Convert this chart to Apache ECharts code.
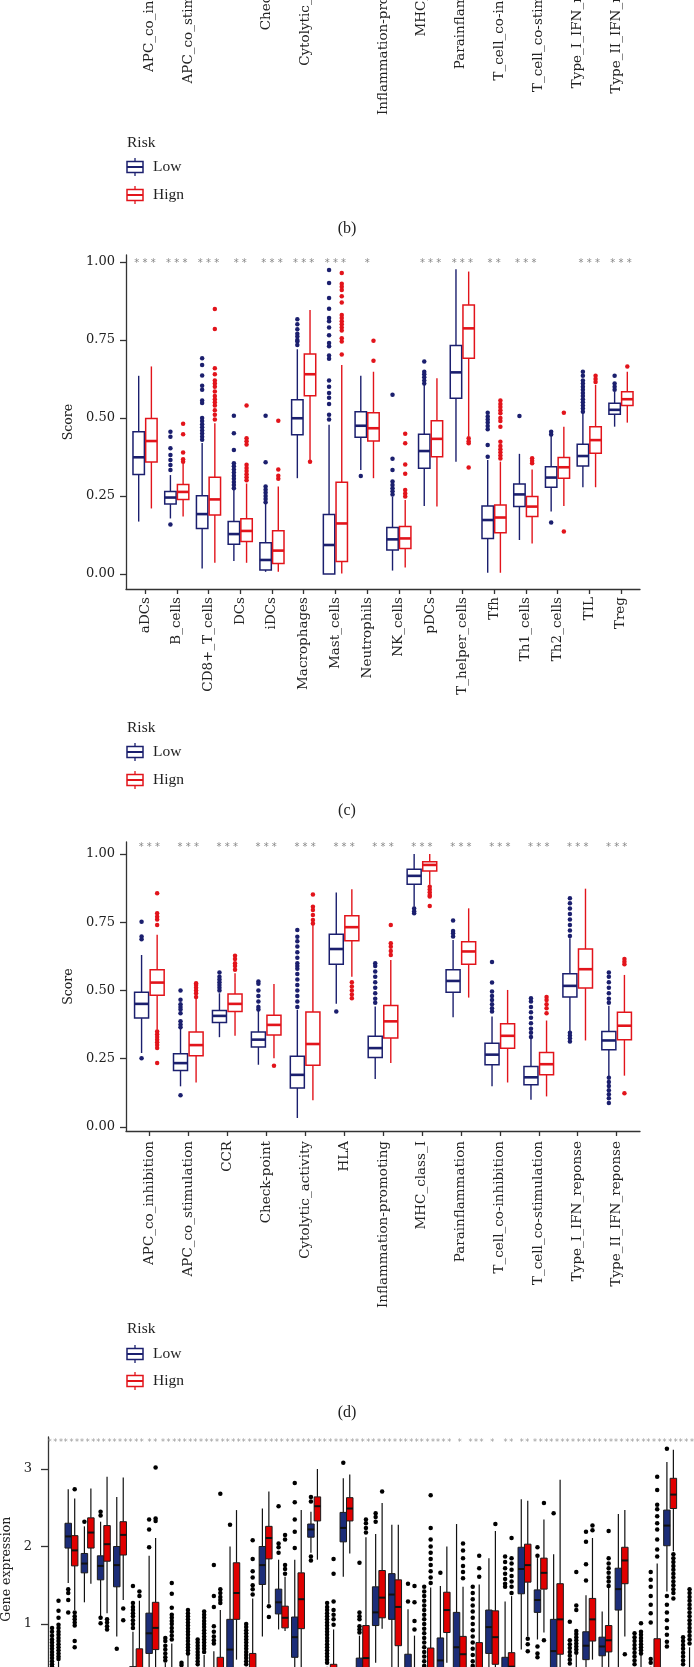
<!DOCTYPE html>
<html><head><meta charset="utf-8">
<script src="https://cdn.jsdelivr.net/npm/echarts@6/dist/echarts.min.js"></script>
<style>html,body{margin:0;padding:0;background:#fff}#chart{width:694px;height:1667px}</style>
</head><body><div id="chart"></div>
<script>
// ---------------- Panel (b)/(d) categories ----------------
const dCats = ['APC_co_inhibition','APC_co_stimulation','CCR','Check-point','Cytolytic_activity','HLA','Inflammation-promoting','MHC_class_I','Parainflammation','T_cell_co-inhibition','T_cell_co-stimulation','Type_I_IFN_reponse','Type_II_IFN_reponse'];
const dStars = ['***','***','***','***','***','***','***','***','***','***','***','***','***'];
// [lowerWhisker, q1, median, q3, upperWhisker]
const dLowStats = [[0.271,0.399,0.451,0.494,0.630],[0.149,0.207,0.234,0.268,0.362],[0.329,0.383,0.407,0.427,0.490],[0.228,0.293,0.320,0.348,0.448],[0.033,0.143,0.191,0.259,0.429],[0.451,0.596,0.652,0.706,0.859],[0.176,0.255,0.289,0.332,0.441],[0.807,0.889,0.920,0.944,1.0],[0.402,0.494,0.535,0.576,0.685],[0.149,0.228,0.265,0.307,0.405],[0.100,0.155,0.182,0.222,0.322],[0.350,0.476,0.517,0.561,0.691],[0.185,0.283,0.317,0.350,0.444]];
const dHighStats = [[0.356,0.483,0.529,0.576,0.704],[0.163,0.261,0.300,0.348,0.478],[0.334,0.423,0.451,0.487,0.563],[0.252,0.337,0.374,0.409,0.524],[0.098,0.226,0.304,0.421,0.740],[0.550,0.682,0.732,0.774,0.871],[0.234,0.326,0.387,0.445,0.612],[0.887,0.938,0.960,0.972,1.0],[0.474,0.596,0.643,0.679,0.801],[0.163,0.288,0.334,0.378,0.502],[0.112,0.191,0.230,0.273,0.390],[0.317,0.509,0.578,0.652,0.873],[0.188,0.320,0.371,0.420,0.557]];
const dLowOut = [[0.752,0.698,0.688,0.252],[0.500,0.466,0.45,0.44,0.43,0.417,0.387,0.375,0.365,0.116],[0.566,0.55,0.54,0.53,0.52,0.51,0.50],[0.533,0.525,0.50,0.48,0.46,0.44,0.43],[0.722,0.697,0.68,0.661,0.64,0.62,0.60,0.59,0.58,0.56,0.54,0.52,0.50,0.48,0.46,0.44],[0.423],[0.60,0.59,0.57,0.55,0.53,0.51,0.49,0.47,0.455],[0.80,0.79,0.783],[0.756,0.718,0.71,0.698],[0.604,0.529,0.496,0.48,0.465,0.45,0.435,0.423],[0.472,0.46,0.44,0.42,0.40,0.38,0.36,0.345,0.33],[0.838,0.82,0.80,0.78,0.76,0.74,0.72,0.70,0.345,0.335,0.325,0.313],[0.566,0.55,0.53,0.51,0.49,0.47,0.455,0.18,0.165,0.15,0.135,0.12,0.105,0.088]];
const dHighOut = [[0.856,0.783,0.77,0.76,0.74,0.35,0.34,0.33,0.32,0.31,0.30,0.289,0.234],[0.527,0.52,0.51,0.50,0.49,0.476],[0.627,0.615,0.60,0.59,0.576],[0.224],[0.852,0.807,0.795,0.777,0.758,0.745],[0.53,0.515,0.50,0.485,0.472],[0.740,0.673,0.66,0.645,0.63],[0.880,0.87,0.86,0.85,0.844,0.810],[],[],[0.476,0.465,0.45,0.435,0.417],[],[0.615,0.605,0.596,0.124]];

// ---------------- Panel (c) ----------------
const cCats = ['aDCs','B_cells','CD8+_T_cells','DCs','iDCs','Macrophages','Mast_cells','Neutrophils','NK_cells','pDCs','T_helper_cells','Tfh','Th1_cells','Th2_cells','TIL','Treg'];
const cStars = ['***','***','***','**','***','***','***','*','','***','***','**','***','','***','***'];
const cLowStats = [[0.168,0.319,0.374,0.456,0.635],[0.178,0.224,0.245,0.264,0.317],[0.018,0.146,0.192,0.251,0.42],[0.042,0.095,0.128,0.168,0.269],[0.007,0.013,0.045,0.100,0.226],[0.307,0.446,0.499,0.558,0.72],[0,0,0.093,0.191,0.478],[0.333,0.438,0.475,0.520,0.635],[0.011,0.077,0.111,0.149,0.248],[0.218,0.339,0.394,0.448,0.606],[0.360,0.563,0.646,0.732,0.976],[0.004,0.114,0.173,0.218,0.365],[0.109,0.216,0.255,0.288,0.385],[0.200,0.278,0.309,0.344,0.442],[0.278,0.346,0.378,0.416,0.517],[0.472,0.512,0.526,0.547,0.584]];
const cHighStats = [[0.210,0.359,0.426,0.498,0.665],[0.184,0.239,0.263,0.287,0.355],[0.036,0.189,0.239,0.310,0.483],[0.036,0.104,0.138,0.177,0.29],[0.007,0.034,0.075,0.139,0.28],[0.365,0.571,0.640,0.705,0.846],[0.002,0.040,0.162,0.294,0.670],[0.307,0.426,0.467,0.517,0.648],[0.021,0.082,0.114,0.152,0.237],[0.216,0.376,0.433,0.491,0.627],[0.442,0.691,0.787,0.862,0.969],[0.004,0.132,0.181,0.221,0.360],[0.098,0.184,0.216,0.248,0.335],[0.218,0.307,0.342,0.373,0.472],[0.278,0.387,0.429,0.472,0.606],[0.485,0.540,0.560,0.584,0.648]];
const cLowOut = [[],[0.456,0.440,0.403,0.381,0.365,0.349,0.333,0.159],[0.691,0.670,0.636,0.603,0.590,0.556,0.548,0.50,0.49,0.48,0.47,0.46,0.45,0.44,0.43],[0.507,0.451,0.397,0.355,0.345,0.335,0.325,0.315,0.305,0.295,0.285,0.275],[0.507,0.358,0.28,0.27,0.26,0.25,0.24,0.23],[0.816,0.80,0.784,0.77,0.761,0.75,0.745,0.734],[0.974,0.932,0.884,0.85,0.82,0.81,0.79,0.765,0.74,0.73,0.70,0.69,0.62,0.60,0.58,0.565,0.545,0.51,0.495],[0.314],[0.574,0.369,0.333,0.296,0.285,0.275,0.265,0.255],[0.681,0.648,0.64,0.63,0.62,0.61],[],[0.517,0.505,0.495,0.485,0.474,0.464,0.413,0.376],[0.506],[0.456,0.447,0.165],[0.648,0.635,0.62,0.61,0.60,0.59,0.58,0.57,0.56,0.55,0.54,0.53,0.52],[0.635,0.61,0.60,0.59]];
const cHighOut = [[],[0.481,0.448,0.389,0.368,0.360],[0.849,0.785,0.659,0.64,0.62,0.61,0.60,0.585,0.57,0.56,0.55,0.54,0.525,0.51,0.495],[0.54,0.435,0.425,0.415,0.35,0.34,0.33,0.32,0.31,0.30],[0.491,0.335,0.315,0.305],[0.36],[0.964,0.93,0.92,0.91,0.89,0.87,0.83,0.82,0.81,0.80,0.79,0.78,0.755,0.745,0.703],[0.747,0.683],[0.449,0.419,0.351,0.321,0.269,0.258,0.248],[],[0.435,0.425,0.419,0.341],[0.556,0.545,0.535,0.525,0.515,0.50,0.49,0.472,0.424,0.41,0.40,0.39,0.38,0.37],[0.371,0.363,0.355],[0.517,0.136],[0.635,0.625,0.615],[0.665]];

// ---------------- Panel (e) gene expression ----------------
const eStars = ['***','***','***','***','***','***','**','***','***','***','***','***','***','***','***','***','***','***','***','***','***','***','***','***','***','*','***','*','**','**','***','***','***','***','***','***','***','***','***','***'];
const eLowStats = [[0,0.05,0.1,0.18,0.4],[1.53,1.98,2.13,2.30,2.74],[1.28,1.66,1.78,1.91,2.26],[1.10,1.57,1.75,1.88,2.32],[0.84,1.48,1.76,2.0,2.64],[0,0.15,0.3,0.45,0.9],[0.3,0.62,0.88,1.14,1.88],[0,0.08,0.15,0.25,0.5],[0,0.05,0.1,0.2,0.42],[0,0.06,0.12,0.22,0.45],[0,0.1,0.18,0.3,0.65],[0,0.35,0.67,1.06,2.0],[0,0.1,0.2,0.3,0.45],[0.84,1.51,1.76,2.0,2.49],[0.93,1.13,1.28,1.45,1.83],[0.3,0.57,0.83,1.09,1.83],[1.92,2.12,2.22,2.29,2.45],[0,0.05,0.1,0.2,0.45],[1.61,2.06,2.24,2.44,2.88],[0,0.15,0.3,0.56,0.85],[0.5,0.98,1.15,1.48,2.16],[0.2,1.06,1.38,1.65,2.28],[0,0.15,0.35,0.61,1.19],[0,0.05,0.1,0.2,0.42],[0.1,0.3,0.53,0.82,1.49],[0.1,0.35,0.70,1.15,2.29],[0,0.05,0.1,0.2,0.42],[0.2,0.62,0.96,1.18,1.85],[0,0.2,0.35,0.57,1.29],[0.67,1.39,1.71,1.99,2.61],[0.8,1.15,1.31,1.44,1.85],[0.1,0.35,0.65,1.06,1.90],[0,0.05,0.1,0.2,0.42],[0.3,0.54,0.72,0.90,1.37],[0.4,0.59,0.71,0.83,1.16],[0.3,1.18,1.45,1.72,2.42],[0,0.05,0.1,0.2,0.42],[0,0.05,0.1,0.2,0.45],[1.42,2.01,2.27,2.47,3.09],[0,0.05,0.1,0.2,0.42]];
const eHighStats = [[0,0.08,0.15,0.25,0.52],[1.18,1.75,1.95,2.14,2.62],[1.52,1.98,2.18,2.37,2.75],[1.14,1.81,2.03,2.27,2.90],[1.31,1.89,2.15,2.32,2.89],[0,0.15,0.35,0.68,1.30],[0.35,0.67,0.95,1.28,2.11],[0,0.1,0.2,0.35,0.75],[0,0.08,0.15,0.28,0.6],[0,0.08,0.15,0.3,0.6],[0,0.15,0.3,0.57,1.18],[0.54,1.06,1.40,1.79,2.47],[0,0.2,0.35,0.62,1.33],[1.26,1.84,2.11,2.26,2.71],[0.91,0.95,1.08,1.23,1.61],[0.25,0.94,1.32,1.66,2.47],[1.83,2.33,2.52,2.64,3.0],[0,0.1,0.2,0.48,0.93],[1.91,2.33,2.49,2.63,2.93],[0,0.3,0.56,0.98,2.12],[0.94,1.08,1.34,1.69,2.56],[0.1,0.72,1.22,1.57,2.28],[0,0.1,0.2,0.35,0.85],[0,0.2,0.35,0.69,1.47],[0.5,0.89,1.18,1.41,2.0],[0,0.35,0.61,0.84,1.48],[0,0.2,0.4,0.76,1.51],[0.1,0.48,0.83,1.17,2.2],[0,0.25,0.45,0.63,1.36],[0.84,1.54,1.76,2.03,2.59],[0.89,1.45,1.66,1.85,2.35],[0.2,0.61,1.06,1.52,2.86],[0,0.08,0.15,0.3,0.6],[0.54,0.78,1.06,1.33,2.11],[0.3,0.64,0.79,0.98,1.48],[0.84,1.52,1.82,1.99,2.47],[0,0.08,0.15,0.3,0.6],[0,0.2,0.4,0.81,1.78],[1.94,2.49,2.67,2.88,3.25],[0,0.1,0.2,0.35,0.7]];
const eLowOut = [[0.95,0.9,0.85,0.8,0.76,0.72,0.68,0.64,0.6,0.56,0.52,0.48,0.45],[1.45,1.40,1.31,1.15],[2.32],[2.45,2.40,1.08,1.01],[0.68],[1.49,1.27,1.22,1.18,1.14,1.10,1.05,1.0,0.95],[2.35,2.22,1.99],[0.82,0.78,0.72,0.67,0.62,0.57,0.53],[0.5,0.47],[0.80,0.76,0.72,0.68,0.64,0.6,0.56,0.52,0.48],[1.76,1.36,1.22,0.97,0.90,0.84,0.79,0.75],[2.28],[1.0,0.96,0.92,0.88,0.84,0.8,0.76,0.72,0.68,0.64,0.6,0.56,0.52,0.48],[],[2.52,2.04,1.99,1.92],[2.82,2.57,2.35,2.19,1.98],[2.64,2.58,1.87,1.82],[1.27,1.22,1.18,1.14,1.1,1.06,1.02,0.98,0.94,0.9,0.86,0.82,0.78,0.74,0.7,0.66,0.62,0.58,0.54,0.5],[3.08],[1.79,1.15,1.10,1.06,0.97,0.93,0.89],[2.43,2.38,2.32],[],[1.52,1.29],[1.48,1.42,1.36,1.3,1.24,1.18,1.12,1.06,1.0,0.94,0.88,0.82,0.76,0.7,0.64,0.58,0.52,0.46],[1.66],[],[1.48,1.4,1.32,1.24,1.16,1.08,1.0,0.92,0.84,0.76,0.68,0.6,0.52,0.46],[],[1.87,1.80,1.72,1.65,1.58,1.52,1.48],[],[1.99,1.88,0.71,0.62,0.57],[2.43],[1.03,0.79,0.74,0.69,0.64,0.59,0.54,0.49],[2.19,2.06,1.77,1.56],[],[],[0.88,0.83,0.78,0.73,0.68,0.63,0.58,0.53,0.48],[1.67,1.57,1.48,1.36,1.25,1.14,1.02,0.55,0.5],[3.26,1.36,1.25,1.15,1.05,0.95,0.86,0.77,0.71],[0.83,0.78,0.73,0.68,0.63,0.58,0.53,0.48]];
const eHighOut = [[1.30,1.17,1.08,0.99,0.95,0.9,0.86,0.82,0.78,0.74,0.7,0.66,0.62,0.58,0.55],[2.74,1.15,1.1,1.06,1.02,0.98,0.78,0.70],[],[1.06,1.02,0.97,0.93],[1.20,1.05],[1.42,1.36],[3.02,2.36,2.33],[1.53,1.39,1.21,1.12,1.08,1.04,1.0,0.95,0.9,0.85,0.8],[1.18,1.14,1.1,1.06,1.02,0.98,0.94,0.9,0.86,0.82,0.78,0.74,0.7,0.66,0.62],[1.16,1.12,1.08,1.04,1.0,0.96,0.92,0.88,0.84,0.8,0.76,0.72,0.68,0.64],[2.68,1.45,1.40,1.35,1.31,1.27],[],[2.08,1.84,1.68,1.60,1.50,1.45,1.38],[1.23,1.09],[2.15,2.09,1.76,1.71,1.65],[],[],[1.84,1.65,1.29,1.18,1.12,1.06,0.99],[],[2.35,2.30,2.24,2.18],[2.71],[],[1.49,1.28,1.04,0.93],[2.66,2.24,2.09,2.0,1.92,1.84,1.76,1.68,1.6,1.53],[],[2.04,1.95,1.85,1.75,1.67,1.59],[1.88,1.72,1.61],[2.29],[2.11,1.85,1.78,1.70,1.62,1.55,1.48,1.40],[0.81,0.74,0.65],[2.56,0.79],[],[1.67,1.24,1.18,0.91,0.87,0.83,0.79,0.75,0.71,0.67,0.63],[2.27,2.21],[2.20,1.85,1.78,1.72,1.66,1.60,1.55,1.49],[0.61],[1.01,0.9,0.86,0.82,0.78,0.74,0.70,0.66,0.62],[2.90,2.73,2.54,2.48,2.39,2.30,2.22,2.09,1.96,1.87],[1.90,1.85,1.8,1.75,1.7,1.65,1.6,1.55,1.5,1.45,1.40,1.33],[1.45,1.4,1.35,1.3,1.25,1.2,1.15,1.1,1.05,1.0,0.95,0.9,0.85,0.8,0.75]];

const scoreTicks = [0, 0.25, 0.5, 0.75, 1];
const geneTicks = [1, 2, 3];
const groupNames = ['Low', 'Hign'];

// ---------------- styling ----------------
const FONT = '"DejaVu Serif", serif';
const LFONT = '"Liberation Serif", serif';
const NAVY = '#1B1F6E', RED = '#E2141B';
const E_NAVY = '#1C2D78', E_RED = '#E00000', E_LINE = '#1a1a1a';
const AX = '#333';

const chart = echarts.init(document.getElementById('chart'));

const range = n => Array.from({length:n}, (_, i) => i);

function catXAxis(gi, cats, margin) {
  const idx = range(cats.length);
  return {
    gridIndex: gi, type: 'value', min: -0.6, max: cats.length - 0.4,
    axisLine: {show: true, onZero: false, lineStyle: {color: AX, width: 1.3}},
    axisTick: {show: true, customValues: idx, length: 5, lineStyle: {color: AX, width: 1.3}},
    axisLabel: {show: true, customValues: idx, rotate: 90, margin: margin,
      formatter: v => cats[Math.round(v)] || '', fontFamily: FONT, fontSize: 13.5, color: '#222'},
    splitLine: {show: false}
  };
}
function scoreYAxis(gi, min, max) {
  return {
    gridIndex: gi, type: 'value', min: min, max: max,
    name: 'Score', nameLocation: 'middle', nameGap: 50, nameRotate: 90,
    nameTextStyle: {fontFamily: FONT, fontSize: 12.5, color: '#222'},
    axisLine: {show: true, onZero: false, lineStyle: {color: AX, width: 1.3}},
    axisTick: {show: true, customValues: scoreTicks, length: 6, lineStyle: {color: AX, width: 1.3}},
    axisLabel: {show: true, customValues: scoreTicks, margin: 11, formatter: v => v.toFixed(2),
      fontFamily: FONT, fontSize: 13, color: '#222'},
    splitLine: {show: false}
  };
}

function boxSeries(gi, lowStats, highStats, o) {
  const data = [];
  lowStats.forEach((s, i) => data.push([i, 0].concat(s)));
  highStats.forEach((s, i) => data.push([i, 1].concat(s)));
  return {
    type: 'custom', xAxisIndex: gi, yAxisIndex: gi, data: data, silent: true, z: 2,
    encode: {x: 0, y: [2, 3, 4, 5, 6]},
    renderItem: function (params, api) {
      const g = api.value(1);
      const cx = api.value(0) + (g === 0 ? -o.off : o.off);
      const lo = api.value(2), q1 = api.value(3), med = api.value(4), q3 = api.value(5), hi = api.value(6);
      const tl = api.coord([cx - o.hw, q3]);
      const br = api.coord([cx + o.hw, q1]);
      const pm = api.coord([cx, med]);
      const ph = api.coord([cx, hi]);
      const pl = api.coord([cx, lo]);
      const stroke = o.stroke[g], fill = o.fill[g], wc = o.whisker[g], mc = o.med[g];
      return {type: 'group', children: [
        {type: 'line', shape: {x1: pm[0], y1: ph[1], x2: pm[0], y2: tl[1]}, style: {stroke: wc, lineWidth: o.wLW}},
        {type: 'line', shape: {x1: pm[0], y1: br[1], x2: pm[0], y2: pl[1]}, style: {stroke: wc, lineWidth: o.wLW}},
        {type: 'rect', shape: {x: tl[0], y: tl[1], width: br[0] - tl[0], height: br[1] - tl[1]},
          style: {fill: fill, stroke: stroke, lineWidth: o.bLW}},
        {type: 'line', shape: {x1: tl[0], y1: pm[1], x2: br[0], y2: pm[1]}, style: {stroke: mc, lineWidth: o.mLW}}
      ]};
    }
  };
}
function outlierSeries(gi, outs, g, off, color, size) {
  const data = [];
  outs.forEach((arr, i) => arr.forEach(v => data.push([i + (g === 0 ? -off : off), v])));
  return {type: 'scatter', xAxisIndex: gi, yAxisIndex: gi, data: data, symbol: 'circle', symbolSize: size,
    itemStyle: {color: color, opacity: 1}, silent: true, z: 3, name: groupNames[g]};
}
function starSeries(gi, stars, yVal, fontSize, color, dy, sep) {
  return {
    type: 'custom', xAxisIndex: gi, yAxisIndex: gi, silent: true, z: 4,
    data: stars.map((s, i) => [i, yVal]), encode: {x: 0, y: 1},
    renderItem: function (params, api) {
      const p = api.coord([api.value(0), api.value(1)]);
      const s = stars[params.dataIndex].split('').join(sep);
      return {type: 'text', x: p[0], y: p[1] + dy,
        style: {text: s, fill: color, fontSize: fontSize, fontFamily: '"DejaVu Sans", sans-serif', align: 'center', verticalAlign: 'middle'}};
    }
  };
}

// legends + panel tags (graphic)
function legendEls(yRisk, yLow, yHigh) {
  const els = [{type: 'text', x: 127, y: yRisk, style: {text: 'Risk', fontFamily: LFONT, fontSize: 15.5, fill: '#222', verticalAlign: 'middle'}}];
  [[yLow, NAVY, 'Low'], [yHigh, RED, 'Hign']].forEach(([y, c, t]) => {
    els.push({type: 'line', shape: {x1: 135, y1: y - 9, x2: 135, y2: y + 9}, style: {stroke: c, lineWidth: 1.3}});
    els.push({type: 'rect', shape: {x: 127, y: y - 5.5, width: 16, height: 11}, style: {fill: '#fff', stroke: c, lineWidth: 1.5}});
    els.push({type: 'line', shape: {x1: 127, y1: y, x2: 143, y2: y}, style: {stroke: c, lineWidth: 2}});
    els.push({type: 'text', x: 153, y: y, style: {text: t, fontFamily: LFONT, fontSize: 15.5, fill: '#222', verticalAlign: 'middle'}});
  });
  return els;
}
function tagEl(t, y) {
  return {type: 'text', x: 347, y: y, style: {text: t, fontFamily: LFONT, fontSize: 16, fill: '#222', align: 'center', verticalAlign: 'middle'}};
}

const cdBox = {off: 0.2, hw: 0.18, stroke: [NAVY, RED], fill: ['#fff', '#fff'], whisker: [NAVY, RED], med: [NAVY, RED], wLW: 1.4, bLW: 1.5, mLW: 2.6};
const eBox = {off: 0.2, hw: 0.2, stroke: [E_LINE, E_LINE], fill: [E_NAVY, E_RED], whisker: ['#111', '#111'], med: ['#111', '#111'], wLW: 1.2, bLW: 1, mLW: 2};

const option = {
  animation: false,
  backgroundColor: '#fff',
  grid: [
    {left: 126, top: -400, width: 514, height: 338, outerBoundsMode: 'none', containLabel: false},
    {left: 126, top: 255, width: 514, height: 334, outerBoundsMode: 'none', containLabel: false},
    {left: 126, top: 842, width: 514, height: 289, outerBoundsMode: 'none', containLabel: false},
    {left: 48, top: 1437, width: 654.5, height: 264.5, outerBoundsMode: 'none', containLabel: false}
  ],
  xAxis: [
    catXAxis(0, dCats, 10),
    catXAxis(1, cCats, 8),
    catXAxis(2, dCats, 10),
    {gridIndex: 3, type: 'value', min: -0.45, max: 40, axisLine: {show: true, onZero: false, lineStyle: {color: AX, width: 1.3}},
      axisTick: {show: false}, axisLabel: {show: false}, splitLine: {show: false}}
  ],
  yAxis: [
    {gridIndex: 0, type: 'value', min: 0, max: 1, show: false},
    scoreYAxis(1, -0.048, 1.022),
    scoreYAxis(2, -0.0147, 1.044),
    {gridIndex: 3, type: 'value', min: 0, max: 3.413,
      name: 'Gene expression', nameLocation: 'middle', nameGap: 32, nameRotate: 90,
      nameTextStyle: {fontFamily: FONT, fontSize: 12.5, color: '#222'},
      axisLine: {show: true, onZero: false, lineStyle: {color: AX, width: 1.3}},
      axisTick: {show: true, customValues: geneTicks, length: 7, lineStyle: {color: AX, width: 1.3}},
      axisLabel: {show: true, customValues: geneTicks, margin: 16, fontFamily: FONT, fontSize: 13, color: '#222'},
      splitLine: {show: false}}
  ],
  series: [
    boxSeries(1, cLowStats, cHighStats, cdBox),
    outlierSeries(1, cLowOut, 0, 0.2, NAVY, 4.5),
    outlierSeries(1, cHighOut, 1, 0.2, RED, 4.5),
    starSeries(1, cStars, 1.0, 10, '#888', 2, ' '),
    boxSeries(2, dLowStats, dHighStats, cdBox),
    outlierSeries(2, dLowOut, 0, 0.2, NAVY, 4.5),
    outlierSeries(2, dHighOut, 1, 0.2, RED, 4.5),
    starSeries(2, dStars, 1.033, 10, '#888', 2, ' '),
    boxSeries(3, eLowStats, eHighStats, eBox),
    outlierSeries(3, eLowOut, 0, 0.2, '#000', 4.5),
    outlierSeries(3, eHighOut, 1, 0.2, '#000', 4.5),
    starSeries(3, eStars, 3.36, 8, '#999', 1.5, '\u2009')
  ],
  graphic: [].concat(
    legendEls(143, 167, 195), [tagEl('(b)', 229)],
    legendEls(728, 752, 780), [tagEl('(c)', 811)],
    legendEls(1329, 1354, 1381), [tagEl('(d)', 1413)]
  )
};
chart.setOption(option);
</script></body></html>
